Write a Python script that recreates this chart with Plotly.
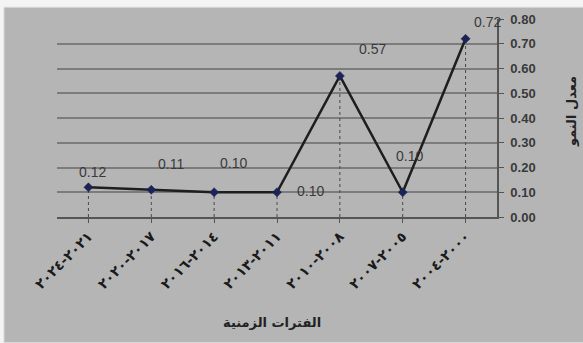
import plotly.graph_objects as go

# Growth rate per period (chronological order; the x axis runs right-to-left)
periods = ["٢٠٠٠-٢٠٠٤", "٢٠٠٥-٢٠٠٧", "٢٠٠٨-٢٠١٠", "٢٠١١-٢٠١٣",
           "٢٠١٤-٢٠١٦", "٢٠١٧-٢٠٢٠", "٢٠٢١-٢٠٢٤"]
growth = [0.72, 0.10, 0.57, 0.10, 0.10, 0.11, 0.12]
y_ticks = [0.0, 0.1, 0.2, 0.3, 0.4, 0.5, 0.6, 0.7, 0.8]

# Pixel offsets of each value label relative to its marker
label_dx = [22, 7, 33, 33, 19, 20, 4]
label_dy = [17, 36, 27, 1, 29, 26, 15]

W, H = 583, 343
L, R, T, B = 57, 86, 15, 126
pw, ph = W - L - R, H - T - B

BG = "#b5b5b5"
GRID = "#7c7c7c"
TXT = "#3a3a3a"

fig = go.Figure()

# Dotted drop lines from each point down to the category axis
drop_x, drop_y = [], []
for p, v in zip(periods, growth):
    drop_x += [p, p, None]
    drop_y += [0, v, None]
fig.add_trace(go.Scatter(
    x=drop_x, y=drop_y, mode="lines",
    line=dict(color="#4a4a4a", width=1, dash="dot"),
    hoverinfo="skip", showlegend=False))

# Main growth line
fig.add_trace(go.Scatter(
    x=periods, y=growth, mode="lines+markers",
    line=dict(color="#1e1e1e", width=2.5),
    marker=dict(symbol="diamond", size=7, color="#1c2457",
                line=dict(color="#1c2457", width=0.5)),
    showlegend=False))

# Value labels
for p, v, dx, dy in zip(periods, growth, label_dx, label_dy):
    fig.add_annotation(
        x=p, y=v, text=f"{v:.2f}", showarrow=False,
        xshift=dx, yshift=dy,
        font=dict(family="Liberation Sans", size=14, color=TXT))

# Grey chart frame
fig.add_shape(type="rect", xref="paper", yref="paper",
              x0=(4 - L) / pw, x1=(W + 2 - L) / pw,
              y0=(H - B - (H + 2)) / ph, y1=(H - B - 3) / ph,
              fillcolor=BG, line=dict(color="#d8d8d8", width=1),
              layer="below")

# Axis titles
fig.add_annotation(
    xref="paper", yref="paper", x=(272 - L) / pw, y=(H - B - 325) / ph,
    xanchor="center", yanchor="middle",
    text="الفترات الزمنية", showarrow=False,
    font=dict(family="DejaVu Sans", size=13, color="#222222", weight="bold"))
fig.add_annotation(
    xref="paper", yref="paper", x=(571 - L) / pw, y=(H - B - 110) / ph,
    xanchor="center", yanchor="middle",
    text="معدل النمو", showarrow=False, textangle=-90,
    font=dict(family="DejaVu Sans", size=13, color="#222222", weight="bold"))

fig.update_layout(
    width=W, height=H,
    margin=dict(l=L, r=R, t=T, b=B),
    paper_bgcolor="#f4f4f4",
    plot_bgcolor=BG,
    xaxis=dict(
        type="category", categoryorder="array", categoryarray=periods,
        range=[len(periods) - 0.5, -0.5],
        showgrid=False, zeroline=False,
        showline=True, linecolor="#555555", linewidth=1.5,
        ticks="outside", ticklen=4, tickcolor="#555555",
        tickangle=-45,
        tickfont=dict(family="DejaVu Sans", size=14, color="#1a1a1a",
                      weight="bold"),
    ),
    yaxis=dict(
        side="right", range=[0, 0.8],
        tickvals=y_ticks, tickformat=".2f",
        showgrid=True, gridcolor=GRID, gridwidth=1.5,
        zeroline=False,
        showline=True, linecolor="#555555", linewidth=1.5,
        ticks="outside", ticklen=5, tickcolor="#555555",
        ticklabelstandoff=4,
        tickfont=dict(family="Liberation Sans", size=13, color=TXT,
                      weight="bold"),
    ),
)

fig.write_html("out.html")
